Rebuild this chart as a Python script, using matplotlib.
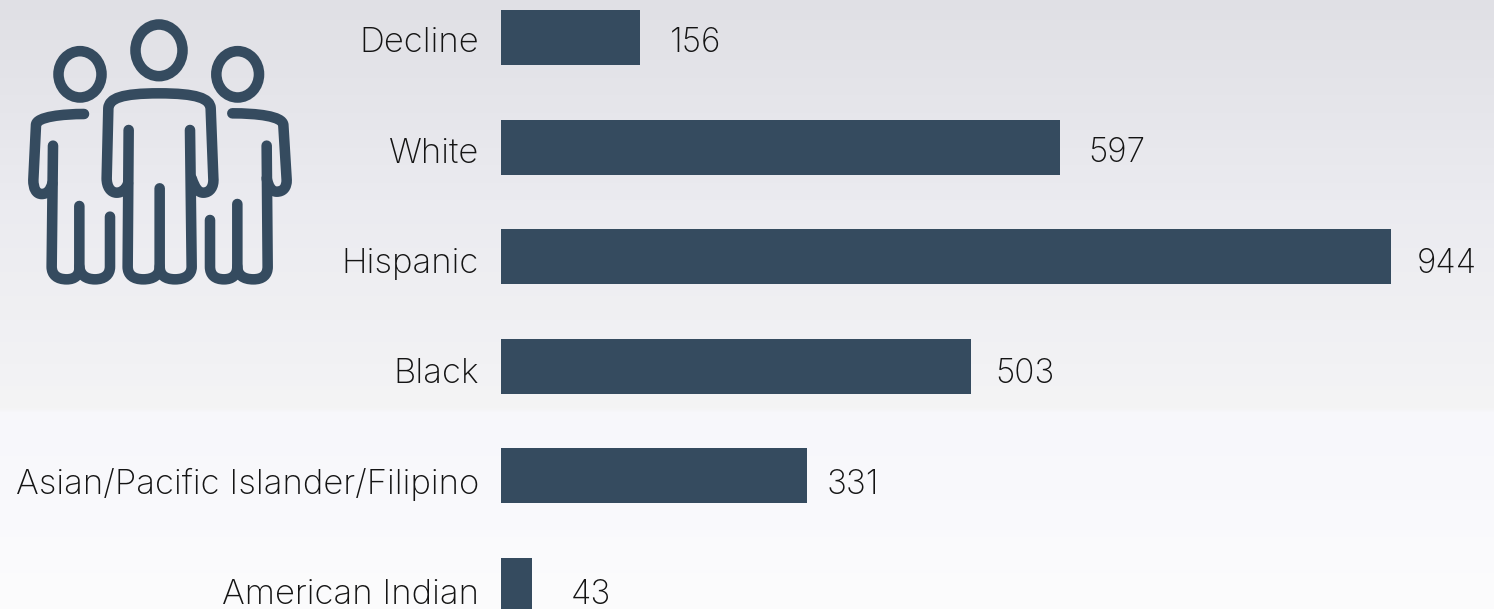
import numpy as np
import matplotlib.pyplot as plt
from matplotlib.path import Path
from matplotlib.patches import PathPatch, Ellipse

categories = ['Decline', 'White', 'Hispanic', 'Black', 'Asian/Pacific Islander/Filipino', 'American Indian']
counts = [156, 597, 944, 503, 331, 43]

# horizontal gap from bar end to the centre of its number, in px
label_gaps = [55, 57, 56, 54, 46, 58]

BAR_COLOR = '#354b5f'
TEXT_COLOR = '#141414'
W, H = 1494, 609

plt.rcParams['font.family'] = ['Inter', 'DejaVu Sans']
plt.rcParams['font.weight'] = 'light'

fig = plt.figure(figsize=(W / 100, H / 100), dpi=100)

# page background, soft grey fading downwards with a small step near y=410
bg = fig.add_axes([0, 0, 1, 1], zorder=0)
stops_y = [0, 60, 200, 320, 408, 412, 500, 609]
stops_c = [224, 227, 235, 240, 244, 247, 249, 252]
stops_b = [229, 232, 240, 243, 245, 251, 252, 253]
grey = np.interp(np.arange(H), stops_y, stops_c)
blue = np.interp(np.arange(H), stops_y, stops_b)
rgb = np.stack([grey, grey, blue], axis=-1) / 255
bg.imshow(rgb[:, None, :], aspect='auto', extent=[0, 1, H, 0])
bg.axis('off')

# bars
ax = fig.add_axes([501 / W, 0, 1 - 501 / W, 1], zorder=1)
ax.patch.set_alpha(0)
y_pos = np.arange(len(categories))
ax.barh(y_pos, counts, height=0.502, color=BAR_COLOR)
ax.set_xlim(10, 10 + 993 / 0.9525)
ax.set_ylim(5.214, -0.342)
ax.set_xticks([])
ax.set_yticks([])
for s in ax.spines.values():
    s.set_visible(False)

for i, (name, n) in enumerate(zip(categories, counts)):
    drop = (2 + 0.8 * i) * 0.72
    ax.annotate(name, (10, i), xytext=(-22 * 0.72, -drop), textcoords='offset points',
                ha='right', va='center_baseline', fontsize=25, color=TEXT_COLOR, annotation_clip=False)
    ax.annotate(str(n), (n, i), xytext=(label_gaps[i] * 0.72, -drop), textcoords='offset points',
                ha='center', va='center_baseline', fontsize=24, color=TEXT_COLOR, annotation_clip=False)

# people icon, drawn on a 3x pixel grid
icon = fig.add_axes([0, 0, 1, 1], zorder=2)
icon.set_xlim(0, W * 3)
icon.set_ylim(H * 3, 0)
icon.axis('off')


def stroke(start, *segs):
    # each seg is either an (x, y) line target or three points of a cubic
    verts = [start]
    codes = [Path.MOVETO]
    for seg in segs:
        if len(seg) == 3:
            verts += list(seg)
            codes += [Path.CURVE4] * 3
        else:
            verts.append(seg)
            codes.append(Path.LINETO)
    icon.add_patch(PathPatch(Path(verts, codes), fill=False, ec=BAR_COLOR, lw=7.6, capstyle='round', joinstyle='round'))


for cx, cy, w, h in [(477, 151, 141, 155), (240, 223, 129, 139), (713, 223, 128, 139)]:
    icon.add_patch(Ellipse((cx, cy), w, h, fill=False, ec=BAR_COLOR, lw=7.6))

# centre figure
stroke((575, 535), ((585, 565), (595, 578), (610, 578)), ((630, 578), (642, 560), (640, 535)), (632, 325),
       ((630, 295), (590, 280), (477, 280)), ((365, 280), (327, 295), (325, 325)), (320, 535),
       ((320, 560), (332, 578), (350, 578)), ((368, 578), (380, 565), (384, 550)))
stroke((386, 390), (383, 800), ((383, 825), (400, 838), (430, 838)), ((460, 838), (480, 825), (479, 800)), (479, 565))
stroke((479, 800), ((479, 825), (495, 838), (525, 838)), ((555, 838), (575, 825), (575, 800)), (570, 390))

# left figure
stroke((252, 342), ((190, 342), (108, 350), (108, 375)), (100, 540),
       ((100, 565), (108, 582), (125, 582)), ((142, 582), (152, 570), (157, 550)))
stroke((159, 437), (155, 800), ((155, 825), (172, 838), (200, 838)), ((225, 838), (240, 825), (238, 800)), (238, 618))
stroke((238, 800), ((240, 825), (258, 838), (285, 838)), ((312, 838), (330, 825), (330, 800)), (330, 650))

# right figure
stroke((697, 340), ((770, 340), (848, 348), (850, 375)), (860, 540),
       ((860, 562), (850, 575), (830, 575)), ((815, 575), (805, 560), (800, 535)))
stroke((800, 437), (803, 800), ((803, 825), (788, 838), (760, 838)), ((730, 838), (712, 825), (712, 800)), (712, 612))
stroke((712, 800), ((712, 825), (697, 838), (672, 838)), ((645, 838), (630, 825), (630, 800)), (630, 660))

fig.savefig('out.png', dpi=100)
